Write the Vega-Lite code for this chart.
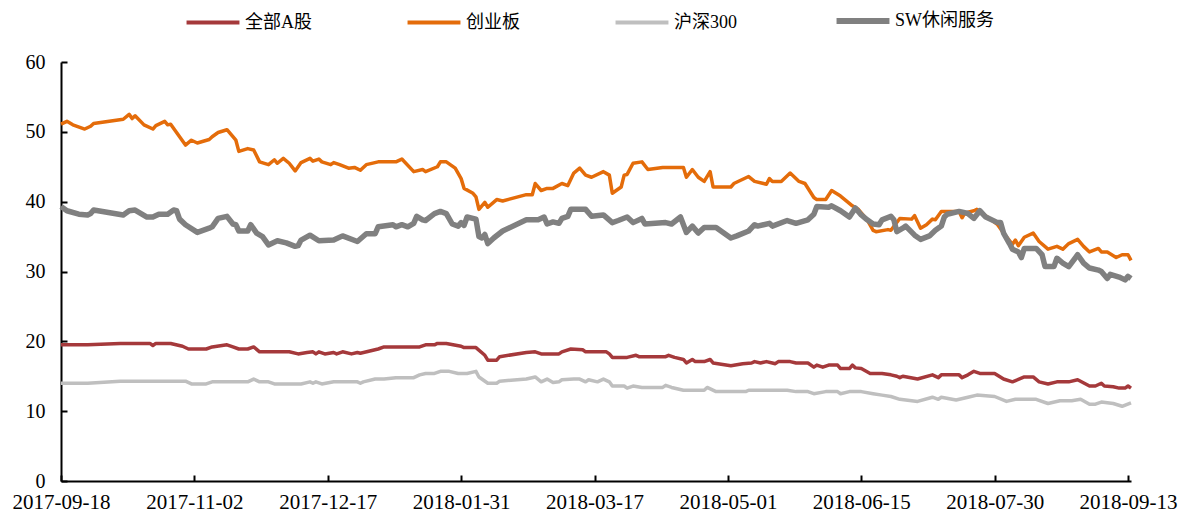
{
"$schema":"https://vega.github.io/schema/vega-lite/v6.json",
"width":1070,"height":419,
"autosize":{"type":"none"},
"padding":{"left":61,"top":62,"right":53,"bottom":32},
"background":"white",
"config":{"view":{"stroke":null},"font":"Liberation Serif"},
"data":{"values":[
{"s":"全部A股","d":"2017-09-18","v":19.5},{"s":"全部A股","d":"2017-09-27","v":19.5},{"s":"全部A股","d":"2017-10-08","v":19.7},{"s":"全部A股","d":"2017-10-18","v":19.7},{"s":"全部A股","d":"2017-10-19","v":19.4},{"s":"全部A股","d":"2017-10-20","v":19.7},{"s":"全部A股","d":"2017-10-25","v":19.7},{"s":"全部A股","d":"2017-10-29","v":19.3},{"s":"全部A股","d":"2017-10-31","v":18.9},{"s":"全部A股","d":"2017-11-06","v":18.9},{"s":"全部A股","d":"2017-11-08","v":19.2},{"s":"全部A股","d":"2017-11-13","v":19.5},{"s":"全部A股","d":"2017-11-15","v":19.2},{"s":"全部A股","d":"2017-11-17","v":18.9},{"s":"全部A股","d":"2017-11-20","v":18.9},{"s":"全部A股","d":"2017-11-22","v":19.2},{"s":"全部A股","d":"2017-11-24","v":18.5},{"s":"全部A股","d":"2017-12-04","v":18.5},{"s":"全部A股","d":"2017-12-07","v":18.2},{"s":"全部A股","d":"2017-12-10","v":18.4},{"s":"全部A股","d":"2017-12-12","v":18.5},{"s":"全部A股","d":"2017-12-13","v":18.2},{"s":"全部A股","d":"2017-12-14","v":18.5},{"s":"全部A股","d":"2017-12-16","v":18.2},{"s":"全部A股","d":"2017-12-19","v":18.4},{"s":"全部A股","d":"2017-12-20","v":18.2},{"s":"全部A股","d":"2017-12-22","v":18.5},{"s":"全部A股","d":"2017-12-25","v":18.2},{"s":"全部A股","d":"2017-12-27","v":18.4},{"s":"全部A股","d":"2017-12-28","v":18.3},{"s":"全部A股","d":"2018-01-03","v":18.9},{"s":"全部A股","d":"2018-01-05","v":19.2},{"s":"全部A股","d":"2018-01-17","v":19.2},{"s":"全部A股","d":"2018-01-19","v":19.5},{"s":"全部A股","d":"2018-01-22","v":19.5},{"s":"全部A股","d":"2018-01-23","v":19.7},{"s":"全部A股","d":"2018-01-26","v":19.7},{"s":"全部A股","d":"2018-01-31","v":19.3},{"s":"全部A股","d":"2018-02-01","v":19.1},{"s":"全部A股","d":"2018-02-05","v":19.1},{"s":"全部A股","d":"2018-02-08","v":18.0},{"s":"全部A股","d":"2018-02-09","v":17.3},{"s":"全部A股","d":"2018-02-12","v":17.3},{"s":"全部A股","d":"2018-02-13","v":17.8},{"s":"全部A股","d":"2018-02-22","v":18.4},{"s":"全部A股","d":"2018-02-25","v":18.5},{"s":"全部A股","d":"2018-02-27","v":18.2},{"s":"全部A股","d":"2018-03-05","v":18.2},{"s":"全部A股","d":"2018-03-06","v":18.5},{"s":"全部A股","d":"2018-03-09","v":18.9},{"s":"全部A股","d":"2018-03-13","v":18.8},{"s":"全部A股","d":"2018-03-14","v":18.5},{"s":"全部A股","d":"2018-03-17","v":18.5},{"s":"全部A股","d":"2018-03-21","v":18.5},{"s":"全部A股","d":"2018-03-22","v":18.2},{"s":"全部A股","d":"2018-03-23","v":17.7},{"s":"全部A股","d":"2018-03-28","v":17.7},{"s":"全部A股","d":"2018-03-31","v":18.0},{"s":"全部A股","d":"2018-04-01","v":17.8},{"s":"全部A股","d":"2018-04-10","v":17.8},{"s":"全部A股","d":"2018-04-11","v":18.0},{"s":"全部A股","d":"2018-04-13","v":17.7},{"s":"全部A股","d":"2018-04-16","v":17.4},{"s":"全部A股","d":"2018-04-17","v":16.9},{"s":"全部A股","d":"2018-04-19","v":17.4},{"s":"全部A股","d":"2018-04-20","v":17.1},{"s":"全部A股","d":"2018-04-23","v":17.1},{"s":"全部A股","d":"2018-04-25","v":17.4},{"s":"全部A股","d":"2018-04-26","v":16.9},{"s":"全部A股","d":"2018-05-02","v":16.5},{"s":"全部A股","d":"2018-05-06","v":16.8},{"s":"全部A股","d":"2018-05-09","v":16.9},{"s":"全部A股","d":"2018-05-10","v":17.1},{"s":"全部A股","d":"2018-05-12","v":16.9},{"s":"全部A股","d":"2018-05-14","v":17.1},{"s":"全部A股","d":"2018-05-16","v":16.9},{"s":"全部A股","d":"2018-05-17","v":16.8},{"s":"全部A股","d":"2018-05-18","v":17.1},{"s":"全部A股","d":"2018-05-22","v":17.1},{"s":"全部A股","d":"2018-05-24","v":16.9},{"s":"全部A股","d":"2018-05-28","v":16.9},{"s":"全部A股","d":"2018-05-30","v":16.3},{"s":"全部A股","d":"2018-05-31","v":16.6},{"s":"全部A股","d":"2018-06-02","v":16.3},{"s":"全部A股","d":"2018-06-04","v":16.6},{"s":"全部A股","d":"2018-06-07","v":16.6},{"s":"全部A股","d":"2018-06-08","v":16.1},{"s":"全部A股","d":"2018-06-11","v":16.1},{"s":"全部A股","d":"2018-06-12","v":16.6},{"s":"全部A股","d":"2018-06-13","v":16.2},{"s":"全部A股","d":"2018-06-15","v":16.1},{"s":"全部A股","d":"2018-06-18","v":15.4},{"s":"全部A股","d":"2018-06-22","v":15.4},{"s":"全部A股","d":"2018-06-25","v":15.2},{"s":"全部A股","d":"2018-06-27","v":15.0},{"s":"全部A股","d":"2018-06-28","v":14.8},{"s":"全部A股","d":"2018-06-29","v":15.0},{"s":"全部A股","d":"2018-07-04","v":14.6},{"s":"全部A股","d":"2018-07-09","v":15.2},{"s":"全部A股","d":"2018-07-11","v":14.8},{"s":"全部A股","d":"2018-07-12","v":15.2},{"s":"全部A股","d":"2018-07-18","v":15.2},{"s":"全部A股","d":"2018-07-19","v":14.8},{"s":"全部A股","d":"2018-07-21","v":15.2},{"s":"全部A股","d":"2018-07-23","v":15.7},{"s":"全部A股","d":"2018-07-25","v":15.4},{"s":"全部A股","d":"2018-07-30","v":15.4},{"s":"全部A股","d":"2018-08-02","v":14.6},{"s":"全部A股","d":"2018-08-05","v":14.2},{"s":"全部A股","d":"2018-08-09","v":14.9},{"s":"全部A股","d":"2018-08-12","v":14.9},{"s":"全部A股","d":"2018-08-14","v":14.2},{"s":"全部A股","d":"2018-08-17","v":13.9},{"s":"全部A股","d":"2018-08-20","v":14.2},{"s":"全部A股","d":"2018-08-24","v":14.2},{"s":"全部A股","d":"2018-08-27","v":14.5},{"s":"全部A股","d":"2018-08-31","v":13.6},{"s":"全部A股","d":"2018-09-02","v":13.6},{"s":"全部A股","d":"2018-09-04","v":14.0},{"s":"全部A股","d":"2018-09-05","v":13.6},{"s":"全部A股","d":"2018-09-08","v":13.5},{"s":"全部A股","d":"2018-09-10","v":13.3},{"s":"全部A股","d":"2018-09-12","v":13.3},{"s":"全部A股","d":"2018-09-13","v":13.6},{"s":"全部A股","d":"2018-09-14","v":13.3},
{"s":"沪深300","d":"2017-09-18","v":14.0},{"s":"沪深300","d":"2017-09-27","v":14.0},{"s":"沪深300","d":"2017-10-08","v":14.3},{"s":"沪深300","d":"2017-10-30","v":14.3},{"s":"沪深300","d":"2017-11-01","v":13.9},{"s":"沪深300","d":"2017-11-06","v":13.9},{"s":"沪深300","d":"2017-11-08","v":14.2},{"s":"沪深300","d":"2017-11-20","v":14.2},{"s":"沪深300","d":"2017-11-22","v":14.6},{"s":"沪深300","d":"2017-11-24","v":14.2},{"s":"沪深300","d":"2017-11-27","v":14.2},{"s":"沪深300","d":"2017-11-29","v":13.9},{"s":"沪深300","d":"2017-12-08","v":13.9},{"s":"沪深300","d":"2017-12-11","v":14.2},{"s":"沪深300","d":"2017-12-12","v":14.0},{"s":"沪深300","d":"2017-12-13","v":14.2},{"s":"沪深300","d":"2017-12-15","v":13.9},{"s":"沪深300","d":"2017-12-19","v":14.2},{"s":"沪深300","d":"2017-12-27","v":14.2},{"s":"沪深300","d":"2017-12-28","v":14.0},{"s":"沪深300","d":"2017-12-29","v":14.2},{"s":"沪深300","d":"2018-01-02","v":14.6},{"s":"沪深300","d":"2018-01-05","v":14.6},{"s":"沪深300","d":"2018-01-09","v":14.8},{"s":"沪深300","d":"2018-01-15","v":14.8},{"s":"沪深300","d":"2018-01-17","v":15.2},{"s":"沪深300","d":"2018-01-19","v":15.4},{"s":"沪深300","d":"2018-01-22","v":15.4},{"s":"沪深300","d":"2018-01-24","v":15.7},{"s":"沪深300","d":"2018-01-27","v":15.7},{"s":"沪深300","d":"2018-01-30","v":15.4},{"s":"沪深300","d":"2018-02-02","v":15.4},{"s":"沪深300","d":"2018-02-05","v":15.7},{"s":"沪深300","d":"2018-02-06","v":14.9},{"s":"沪深300","d":"2018-02-09","v":14.0},{"s":"沪深300","d":"2018-02-12","v":14.0},{"s":"沪深300","d":"2018-02-13","v":14.3},{"s":"沪深300","d":"2018-02-22","v":14.6},{"s":"沪深300","d":"2018-02-25","v":14.9},{"s":"沪深300","d":"2018-02-27","v":14.2},{"s":"沪深300","d":"2018-03-01","v":14.6},{"s":"沪深300","d":"2018-03-03","v":14.1},{"s":"沪深300","d":"2018-03-05","v":14.2},{"s":"沪深300","d":"2018-03-06","v":14.5},{"s":"沪深300","d":"2018-03-10","v":14.6},{"s":"沪深300","d":"2018-03-12","v":14.6},{"s":"沪深300","d":"2018-03-14","v":14.2},{"s":"沪深300","d":"2018-03-15","v":14.5},{"s":"沪深300","d":"2018-03-18","v":14.2},{"s":"沪深300","d":"2018-03-20","v":14.6},{"s":"沪深300","d":"2018-03-22","v":14.2},{"s":"沪深300","d":"2018-03-23","v":13.6},{"s":"沪深300","d":"2018-03-27","v":13.6},{"s":"沪深300","d":"2018-03-28","v":13.3},{"s":"沪深300","d":"2018-03-30","v":13.6},{"s":"沪深300","d":"2018-04-02","v":13.4},{"s":"沪深300","d":"2018-04-09","v":13.4},{"s":"沪深300","d":"2018-04-10","v":13.7},{"s":"沪深300","d":"2018-04-12","v":13.4},{"s":"沪深300","d":"2018-04-16","v":13.0},{"s":"沪深300","d":"2018-04-23","v":13.0},{"s":"沪深300","d":"2018-04-24","v":13.4},{"s":"沪深300","d":"2018-04-27","v":12.8},{"s":"沪深300","d":"2018-05-07","v":12.8},{"s":"沪深300","d":"2018-05-08","v":13.0},{"s":"沪深300","d":"2018-05-21","v":13.0},{"s":"沪深300","d":"2018-05-24","v":12.8},{"s":"沪深300","d":"2018-05-28","v":12.8},{"s":"沪深300","d":"2018-05-30","v":12.5},{"s":"沪深300","d":"2018-06-03","v":12.8},{"s":"沪深300","d":"2018-06-07","v":12.8},{"s":"沪深300","d":"2018-06-08","v":12.5},{"s":"沪深300","d":"2018-06-11","v":12.8},{"s":"沪深300","d":"2018-06-15","v":12.8},{"s":"沪深300","d":"2018-06-19","v":12.5},{"s":"沪深300","d":"2018-06-22","v":12.3},{"s":"沪深300","d":"2018-06-25","v":12.1},{"s":"沪深300","d":"2018-06-28","v":11.7},{"s":"沪深300","d":"2018-07-04","v":11.4},{"s":"沪深300","d":"2018-07-09","v":12.0},{"s":"沪深300","d":"2018-07-11","v":11.7},{"s":"沪深300","d":"2018-07-12","v":12.0},{"s":"沪深300","d":"2018-07-17","v":11.6},{"s":"沪深300","d":"2018-07-21","v":12.0},{"s":"沪深300","d":"2018-07-24","v":12.3},{"s":"沪深300","d":"2018-07-30","v":12.1},{"s":"沪深300","d":"2018-08-03","v":11.4},{"s":"沪深300","d":"2018-08-06","v":11.7},{"s":"沪深300","d":"2018-08-13","v":11.7},{"s":"沪深300","d":"2018-08-17","v":11.1},{"s":"沪深300","d":"2018-08-21","v":11.5},{"s":"沪深300","d":"2018-08-25","v":11.5},{"s":"沪深300","d":"2018-08-28","v":11.7},{"s":"沪深300","d":"2018-08-31","v":11.0},{"s":"沪深300","d":"2018-09-02","v":11.0},{"s":"沪深300","d":"2018-09-04","v":11.3},{"s":"沪深300","d":"2018-09-08","v":11.1},{"s":"沪深300","d":"2018-09-11","v":10.7},{"s":"沪深300","d":"2018-09-14","v":11.2},
{"s":"创业板","d":"2017-09-18","v":51.1},{"s":"创业板","d":"2017-09-20","v":51.5},{"s":"创业板","d":"2017-09-22","v":51.0},{"s":"创业板","d":"2017-09-26","v":50.4},{"s":"创业板","d":"2017-09-28","v":50.8},{"s":"创业板","d":"2017-09-29","v":51.2},{"s":"创业板","d":"2017-10-09","v":51.8},{"s":"创业板","d":"2017-10-11","v":52.5},{"s":"创业板","d":"2017-10-12","v":51.9},{"s":"创业板","d":"2017-10-13","v":52.3},{"s":"创业板","d":"2017-10-16","v":51.0},{"s":"创业板","d":"2017-10-19","v":50.4},{"s":"创业板","d":"2017-10-20","v":50.9},{"s":"创业板","d":"2017-10-23","v":51.5},{"s":"创业板","d":"2017-10-24","v":51.0},{"s":"创业板","d":"2017-10-25","v":51.1},{"s":"创业板","d":"2017-10-30","v":48.1},{"s":"创业板","d":"2017-11-01","v":48.8},{"s":"创业板","d":"2017-11-03","v":48.4},{"s":"创业板","d":"2017-11-07","v":48.9},{"s":"创业板","d":"2017-11-08","v":49.3},{"s":"创业板","d":"2017-11-10","v":49.9},{"s":"创业板","d":"2017-11-13","v":50.3},{"s":"创业板","d":"2017-11-16","v":48.8},{"s":"创业板","d":"2017-11-17","v":47.2},{"s":"创业板","d":"2017-11-20","v":47.6},{"s":"创业板","d":"2017-11-22","v":47.4},{"s":"创业板","d":"2017-11-24","v":45.7},{"s":"创业板","d":"2017-11-27","v":45.3},{"s":"创业板","d":"2017-11-29","v":46.0},{"s":"创业板","d":"2017-11-30","v":45.5},{"s":"创业板","d":"2017-12-02","v":46.2},{"s":"创业板","d":"2017-12-04","v":45.5},{"s":"创业板","d":"2017-12-06","v":44.4},{"s":"创业板","d":"2017-12-08","v":45.6},{"s":"创业板","d":"2017-12-11","v":46.2},{"s":"创业板","d":"2017-12-12","v":45.8},{"s":"创业板","d":"2017-12-14","v":46.1},{"s":"创业板","d":"2017-12-15","v":45.7},{"s":"创业板","d":"2017-12-18","v":45.3},{"s":"创业板","d":"2017-12-19","v":45.6},{"s":"创业板","d":"2017-12-21","v":45.3},{"s":"创业板","d":"2017-12-24","v":44.8},{"s":"创业板","d":"2017-12-26","v":44.9},{"s":"创业板","d":"2017-12-28","v":44.5},{"s":"创业板","d":"2017-12-30","v":45.3},{"s":"创业板","d":"2018-01-03","v":45.7},{"s":"创业板","d":"2018-01-09","v":45.7},{"s":"创业板","d":"2018-01-11","v":46.1},{"s":"创业板","d":"2018-01-15","v":44.3},{"s":"创业板","d":"2018-01-18","v":44.6},{"s":"创业板","d":"2018-01-19","v":44.3},{"s":"创业板","d":"2018-01-23","v":45.0},{"s":"创业板","d":"2018-01-24","v":45.7},{"s":"创业板","d":"2018-01-26","v":45.7},{"s":"创业板","d":"2018-01-29","v":44.8},{"s":"创业板","d":"2018-01-31","v":43.3},{"s":"创业板","d":"2018-02-01","v":41.9},{"s":"创业板","d":"2018-02-04","v":41.2},{"s":"创业板","d":"2018-02-05","v":40.7},{"s":"创业板","d":"2018-02-06","v":38.9},{"s":"创业板","d":"2018-02-08","v":39.9},{"s":"创业板","d":"2018-02-09","v":39.2},{"s":"创业板","d":"2018-02-12","v":40.3},{"s":"创业板","d":"2018-02-14","v":40.1},{"s":"创业板","d":"2018-02-22","v":41.0},{"s":"创业板","d":"2018-02-24","v":41.0},{"s":"创业板","d":"2018-02-25","v":42.6},{"s":"创业板","d":"2018-02-27","v":41.6},{"s":"创业板","d":"2018-03-01","v":41.9},{"s":"创业板","d":"2018-03-03","v":41.9},{"s":"创业板","d":"2018-03-06","v":42.6},{"s":"创业板","d":"2018-03-08","v":42.3},{"s":"创业板","d":"2018-03-10","v":44.1},{"s":"创业板","d":"2018-03-12","v":44.8},{"s":"创业板","d":"2018-03-14","v":43.8},{"s":"创业板","d":"2018-03-16","v":43.5},{"s":"创业板","d":"2018-03-20","v":44.3},{"s":"创业板","d":"2018-03-22","v":43.8},{"s":"创业板","d":"2018-03-23","v":41.2},{"s":"创业板","d":"2018-03-26","v":42.1},{"s":"创业板","d":"2018-03-27","v":43.8},{"s":"创业板","d":"2018-03-28","v":43.9},{"s":"创业板","d":"2018-03-30","v":45.5},{"s":"创业板","d":"2018-04-02","v":45.7},{"s":"创业板","d":"2018-04-04","v":44.6},{"s":"创业板","d":"2018-04-09","v":44.9},{"s":"创业板","d":"2018-04-16","v":44.9},{"s":"创业板","d":"2018-04-17","v":43.5},{"s":"创业板","d":"2018-04-19","v":44.6},{"s":"创业板","d":"2018-04-21","v":43.5},{"s":"创业板","d":"2018-04-23","v":42.9},{"s":"创业板","d":"2018-04-25","v":44.3},{"s":"创业板","d":"2018-04-26","v":42.1},{"s":"创业板","d":"2018-05-02","v":42.1},{"s":"创业板","d":"2018-05-03","v":42.6},{"s":"创业板","d":"2018-05-08","v":43.6},{"s":"创业板","d":"2018-05-10","v":42.9},{"s":"创业板","d":"2018-05-14","v":42.5},{"s":"创业板","d":"2018-05-15","v":43.3},{"s":"创业板","d":"2018-05-16","v":42.9},{"s":"创业板","d":"2018-05-19","v":42.9},{"s":"创业板","d":"2018-05-22","v":44.1},{"s":"创业板","d":"2018-05-25","v":42.9},{"s":"创业板","d":"2018-05-27","v":42.6},{"s":"创业板","d":"2018-05-30","v":40.6},{"s":"创业板","d":"2018-05-31","v":40.3},{"s":"创业板","d":"2018-06-03","v":40.3},{"s":"创业板","d":"2018-06-05","v":41.6},{"s":"创业板","d":"2018-06-08","v":40.8},{"s":"创业板","d":"2018-06-12","v":39.4},{"s":"创业板","d":"2018-06-14","v":38.9},{"s":"创业板","d":"2018-06-17","v":37.4},{"s":"创业板","d":"2018-06-19","v":35.9},{"s":"创业板","d":"2018-06-20","v":35.7},{"s":"创业板","d":"2018-06-24","v":36.0},{"s":"创业板","d":"2018-06-25","v":35.9},{"s":"创业板","d":"2018-06-28","v":37.6},{"s":"创业板","d":"2018-07-02","v":37.5},{"s":"创业板","d":"2018-07-03","v":38.0},{"s":"创业板","d":"2018-07-05","v":36.2},{"s":"创业板","d":"2018-07-07","v":36.7},{"s":"创业板","d":"2018-07-09","v":37.5},{"s":"创业板","d":"2018-07-10","v":37.4},{"s":"创业板","d":"2018-07-12","v":38.6},{"s":"创业板","d":"2018-07-15","v":38.6},{"s":"创业板","d":"2018-07-18","v":38.6},{"s":"创业板","d":"2018-07-19","v":37.7},{"s":"创业板","d":"2018-07-20","v":38.4},{"s":"创业板","d":"2018-07-23","v":38.7},{"s":"创业板","d":"2018-07-24","v":38.9},{"s":"创业板","d":"2018-07-25","v":38.6},{"s":"创业板","d":"2018-07-31","v":36.7},{"s":"创业板","d":"2018-08-02","v":35.5},{"s":"创业板","d":"2018-08-05","v":33.9},{"s":"创业板","d":"2018-08-06","v":34.5},{"s":"创业板","d":"2018-08-07","v":33.7},{"s":"创业板","d":"2018-08-09","v":34.9},{"s":"创业板","d":"2018-08-12","v":35.5},{"s":"创业板","d":"2018-08-14","v":34.3},{"s":"创业板","d":"2018-08-17","v":33.2},{"s":"创业板","d":"2018-08-20","v":33.6},{"s":"创业板","d":"2018-08-22","v":33.2},{"s":"创业板","d":"2018-08-24","v":34.0},{"s":"创业板","d":"2018-08-27","v":34.6},{"s":"创业板","d":"2018-08-29","v":33.6},{"s":"创业板","d":"2018-08-31","v":32.8},{"s":"创业板","d":"2018-09-03","v":33.3},{"s":"创业板","d":"2018-09-04","v":32.8},{"s":"创业板","d":"2018-09-06","v":32.8},{"s":"创业板","d":"2018-09-09","v":32.0},{"s":"创业板","d":"2018-09-11","v":32.4},{"s":"创业板","d":"2018-09-13","v":32.4},{"s":"创业板","d":"2018-09-14","v":31.6},
{"s":"SW休闲服务","d":"2017-09-18","v":39.3},{"s":"SW休闲服务","d":"2017-09-20","v":38.7},{"s":"SW休闲服务","d":"2017-09-24","v":38.2},{"s":"SW休闲服务","d":"2017-09-27","v":38.1},{"s":"SW休闲服务","d":"2017-09-28","v":38.3},{"s":"SW休闲服务","d":"2017-09-29","v":38.8},{"s":"SW休闲服务","d":"2017-10-09","v":38.1},{"s":"SW休闲服务","d":"2017-10-11","v":38.7},{"s":"SW休闲服务","d":"2017-10-13","v":38.8},{"s":"SW休闲服务","d":"2017-10-17","v":37.8},{"s":"SW休闲服务","d":"2017-10-19","v":37.8},{"s":"SW休闲服务","d":"2017-10-21","v":38.2},{"s":"SW休闲服务","d":"2017-10-24","v":38.2},{"s":"SW休闲服务","d":"2017-10-26","v":38.8},{"s":"SW休闲服务","d":"2017-10-27","v":38.7},{"s":"SW休闲服务","d":"2017-10-28","v":37.5},{"s":"SW休闲服务","d":"2017-10-30","v":36.7},{"s":"SW休闲服务","d":"2017-11-03","v":35.6},{"s":"SW休闲服务","d":"2017-11-07","v":36.2},{"s":"SW休闲服务","d":"2017-11-08","v":36.4},{"s":"SW休闲服务","d":"2017-11-10","v":37.6},{"s":"SW休闲服务","d":"2017-11-13","v":37.9},{"s":"SW休闲服务","d":"2017-11-15","v":36.8},{"s":"SW休闲服务","d":"2017-11-16","v":36.7},{"s":"SW休闲服务","d":"2017-11-17","v":35.8},{"s":"SW休闲服务","d":"2017-11-20","v":35.8},{"s":"SW休闲服务","d":"2017-11-21","v":36.7},{"s":"SW休闲服务","d":"2017-11-23","v":35.5},{"s":"SW休闲服务","d":"2017-11-25","v":35.0},{"s":"SW休闲服务","d":"2017-11-27","v":33.8},{"s":"SW休闲服务","d":"2017-11-30","v":34.4},{"s":"SW休闲服务","d":"2017-12-03","v":34.1},{"s":"SW休闲服务","d":"2017-12-06","v":33.6},{"s":"SW休闲服务","d":"2017-12-07","v":33.7},{"s":"SW休闲服务","d":"2017-12-08","v":34.5},{"s":"SW休闲服务","d":"2017-12-11","v":35.2},{"s":"SW休闲服务","d":"2017-12-14","v":34.4},{"s":"SW休闲服务","d":"2017-12-19","v":34.5},{"s":"SW休闲服务","d":"2017-12-22","v":35.1},{"s":"SW休闲服务","d":"2017-12-27","v":34.3},{"s":"SW休闲服务","d":"2017-12-30","v":35.4},{"s":"SW休闲服务","d":"2018-01-02","v":35.4},{"s":"SW休闲服务","d":"2018-01-03","v":36.4},{"s":"SW休闲服务","d":"2018-01-08","v":36.7},{"s":"SW休闲服务","d":"2018-01-09","v":36.4},{"s":"SW休闲服务","d":"2018-01-11","v":36.7},{"s":"SW休闲服务","d":"2018-01-13","v":36.4},{"s":"SW休闲服务","d":"2018-01-15","v":36.9},{"s":"SW休闲服务","d":"2018-01-16","v":37.9},{"s":"SW休闲服务","d":"2018-01-18","v":37.4},{"s":"SW休闲服务","d":"2018-01-19","v":37.3},{"s":"SW休闲服务","d":"2018-01-22","v":38.3},{"s":"SW休闲服务","d":"2018-01-24","v":38.6},{"s":"SW休闲服务","d":"2018-01-26","v":38.3},{"s":"SW休闲服务","d":"2018-01-28","v":36.8},{"s":"SW休闲服务","d":"2018-01-30","v":36.5},{"s":"SW休闲服务","d":"2018-01-31","v":37.0},{"s":"SW休闲服务","d":"2018-02-01","v":36.6},{"s":"SW休闲服务","d":"2018-02-02","v":37.8},{"s":"SW休闲服务","d":"2018-02-05","v":37.5},{"s":"SW休闲服务","d":"2018-02-06","v":35.0},{"s":"SW休闲服务","d":"2018-02-07","v":34.8},{"s":"SW休闲服务","d":"2018-02-08","v":35.3},{"s":"SW休闲服务","d":"2018-02-09","v":34.0},{"s":"SW休闲服务","d":"2018-02-11","v":34.8},{"s":"SW休闲服务","d":"2018-02-14","v":35.8},{"s":"SW休闲服务","d":"2018-02-22","v":37.4},{"s":"SW休闲服务","d":"2018-02-26","v":37.4},{"s":"SW休闲服务","d":"2018-02-28","v":37.8},{"s":"SW休闲服务","d":"2018-03-01","v":36.8},{"s":"SW休闲服务","d":"2018-03-03","v":37.1},{"s":"SW休闲服务","d":"2018-03-05","v":36.9},{"s":"SW休闲服务","d":"2018-03-06","v":37.6},{"s":"SW休闲服务","d":"2018-03-08","v":37.9},{"s":"SW休闲服务","d":"2018-03-09","v":38.9},{"s":"SW休闲服务","d":"2018-03-14","v":38.9},{"s":"SW休闲服务","d":"2018-03-16","v":37.9},{"s":"SW休闲服务","d":"2018-03-20","v":38.1},{"s":"SW休闲服务","d":"2018-03-23","v":37.0},{"s":"SW休闲服务","d":"2018-03-25","v":37.3},{"s":"SW休闲服务","d":"2018-03-28","v":37.8},{"s":"SW休闲服务","d":"2018-03-30","v":37.0},{"s":"SW休闲服务","d":"2018-04-02","v":37.6},{"s":"SW休闲服务","d":"2018-04-03","v":36.8},{"s":"SW休闲服务","d":"2018-04-10","v":37.0},{"s":"SW休闲服务","d":"2018-04-12","v":36.8},{"s":"SW休闲服务","d":"2018-04-15","v":37.8},{"s":"SW休闲服务","d":"2018-04-17","v":35.6},{"s":"SW休闲服务","d":"2018-04-19","v":36.5},{"s":"SW休闲服务","d":"2018-04-21","v":35.5},{"s":"SW休闲服务","d":"2018-04-23","v":36.3},{"s":"SW休闲服务","d":"2018-04-27","v":36.3},{"s":"SW休闲服务","d":"2018-05-02","v":34.8},{"s":"SW休闲服务","d":"2018-05-04","v":35.1},{"s":"SW休闲服务","d":"2018-05-08","v":35.8},{"s":"SW休闲服务","d":"2018-05-10","v":36.7},{"s":"SW休闲服务","d":"2018-05-11","v":36.5},{"s":"SW休闲服务","d":"2018-05-15","v":36.9},{"s":"SW休闲服务","d":"2018-05-16","v":36.5},{"s":"SW休闲服务","d":"2018-05-21","v":37.3},{"s":"SW休闲服务","d":"2018-05-24","v":36.9},{"s":"SW休闲服务","d":"2018-05-28","v":37.4},{"s":"SW休闲服务","d":"2018-05-30","v":38.2},{"s":"SW休闲服务","d":"2018-05-31","v":39.3},{"s":"SW休闲服务","d":"2018-06-04","v":39.2},{"s":"SW休闲服务","d":"2018-06-05","v":39.4},{"s":"SW休闲服务","d":"2018-06-08","v":38.7},{"s":"SW休闲服务","d":"2018-06-11","v":37.8},{"s":"SW休闲服务","d":"2018-06-13","v":39.1},{"s":"SW休闲服务","d":"2018-06-15","v":38.1},{"s":"SW休闲服务","d":"2018-06-17","v":37.4},{"s":"SW休闲服务","d":"2018-06-19","v":36.8},{"s":"SW休闲服务","d":"2018-06-21","v":36.7},{"s":"SW休闲服务","d":"2018-06-22","v":37.4},{"s":"SW休闲服务","d":"2018-06-25","v":37.9},{"s":"SW休闲服务","d":"2018-06-26","v":37.4},{"s":"SW休闲服务","d":"2018-06-27","v":35.7},{"s":"SW休闲服务","d":"2018-06-29","v":36.2},{"s":"SW休闲服务","d":"2018-06-30","v":36.5},{"s":"SW休闲服务","d":"2018-07-03","v":35.2},{"s":"SW休闲服务","d":"2018-07-05","v":34.6},{"s":"SW休闲服务","d":"2018-07-08","v":35.1},{"s":"SW休闲服务","d":"2018-07-10","v":35.9},{"s":"SW休闲服务","d":"2018-07-12","v":36.5},{"s":"SW休闲服务","d":"2018-07-13","v":37.8},{"s":"SW休闲服务","d":"2018-07-14","v":38.2},{"s":"SW休闲服务","d":"2018-07-18","v":38.6},{"s":"SW休闲服务","d":"2018-07-21","v":38.3},{"s":"SW休闲服务","d":"2018-07-23","v":37.6},{"s":"SW休闲服务","d":"2018-07-25","v":38.7},{"s":"SW休闲服务","d":"2018-07-27","v":37.8},{"s":"SW休闲服务","d":"2018-07-31","v":37.0},{"s":"SW休闲服务","d":"2018-08-01","v":37.0},{"s":"SW休闲服务","d":"2018-08-02","v":35.5},{"s":"SW休闲服务","d":"2018-08-04","v":34.0},{"s":"SW休闲服务","d":"2018-08-05","v":33.2},{"s":"SW休闲服务","d":"2018-08-07","v":32.8},{"s":"SW休闲服务","d":"2018-08-08","v":32.0},{"s":"SW休闲服务","d":"2018-08-09","v":33.3},{"s":"SW休闲服务","d":"2018-08-13","v":33.3},{"s":"SW休闲服务","d":"2018-08-15","v":32.4},{"s":"SW休闲服务","d":"2018-08-16","v":30.7},{"s":"SW休闲服务","d":"2018-08-19","v":30.7},{"s":"SW休闲服务","d":"2018-08-20","v":31.9},{"s":"SW休闲服务","d":"2018-08-22","v":31.2},{"s":"SW休闲服务","d":"2018-08-24","v":30.7},{"s":"SW休闲服务","d":"2018-08-27","v":32.4},{"s":"SW休闲服务","d":"2018-08-29","v":31.2},{"s":"SW休闲服务","d":"2018-08-31","v":30.5},{"s":"SW休闲服务","d":"2018-09-03","v":30.2},{"s":"SW休闲服务","d":"2018-09-04","v":30.0},{"s":"SW休闲服务","d":"2018-09-06","v":29.0},{"s":"SW休闲服务","d":"2018-09-07","v":29.6},{"s":"SW休闲服务","d":"2018-09-10","v":29.2},{"s":"SW休闲服务","d":"2018-09-12","v":28.8},{"s":"SW休闲服务","d":"2018-09-13","v":29.3},{"s":"SW休闲服务","d":"2018-09-14","v":29.0}
]},
"mark":{"type":"line","strokeJoin":"round"},
"encoding":{
"x":{"field":"d","type":"temporal","scale":{"type":"utc","domain":[{"year":2017,"month":9,"date":18,"utc":true},{"year":2018,"month":9,"date":14,"utc":true}]},
"axis":{"title":null,"values":[{"year":2017,"month":9,"date":18,"utc":true},{"year":2017,"month":11,"date":2,"utc":true},{"year":2017,"month":12,"date":17,"utc":true},{"year":2018,"month":1,"date":31,"utc":true},{"year":2018,"month":3,"date":17,"utc":true},{"year":2018,"month":5,"date":1,"utc":true},{"year":2018,"month":6,"date":15,"utc":true},{"year":2018,"month":7,"date":30,"utc":true},{"year":2018,"month":9,"date":13,"utc":true}],"format":"%Y-%m-%d","labelFont":"Liberation Serif","labelFontSize":21,"labelColor":"#000000","domainColor":"#000000","domainWidth":2,"tickColor":"#000000","tickWidth":2,"tickSize":-6,"labelPadding":16,"labelOverlap":false,"labelFlush":false,"labelBound":false,"grid":false}},
"y":{"field":"v","type":"quantitative","scale":{"domain":[0,60],"nice":false,"zero":true},
"axis":{"title":null,"values":[0,10,20,30,40,50,60],"labelFont":"Liberation Serif","labelFontSize":20,"labelColor":"#000000","domainColor":"#000000","domainWidth":2,"tickColor":"#000000","tickWidth":2,"tickSize":-6,"labelPadding":22,"grid":false}},
"color":{"field":"s","type":"nominal","scale":{"domain":["全部A股","创业板","沪深300","SW休闲服务"],"range":["#A5393B","#E46C0A","#BFBFBF","#808080"]},
"legend":{"orient":"none","legendX":143,"legendY":-50,"direction":"horizontal","title":null,"symbolType":"stroke","symbolSize":2800,"symbolStrokeWidth":4,"labelFont":"Liberation Serif, Noto Sans CJK SC","labelFontSize":18,"labelColor":"#000000","columnPadding":87,"labelOffset":23,"padding":0,"encode":{"symbols":{"update":{"strokeWidth":{"signal":"datum.value === 'SW休闲服务' ? 6 : 4"}}}}}},
"strokeWidth":{"condition":{"test":"datum.s === 'SW休闲服务'","value":5.5},"value":3.5}
}
}
